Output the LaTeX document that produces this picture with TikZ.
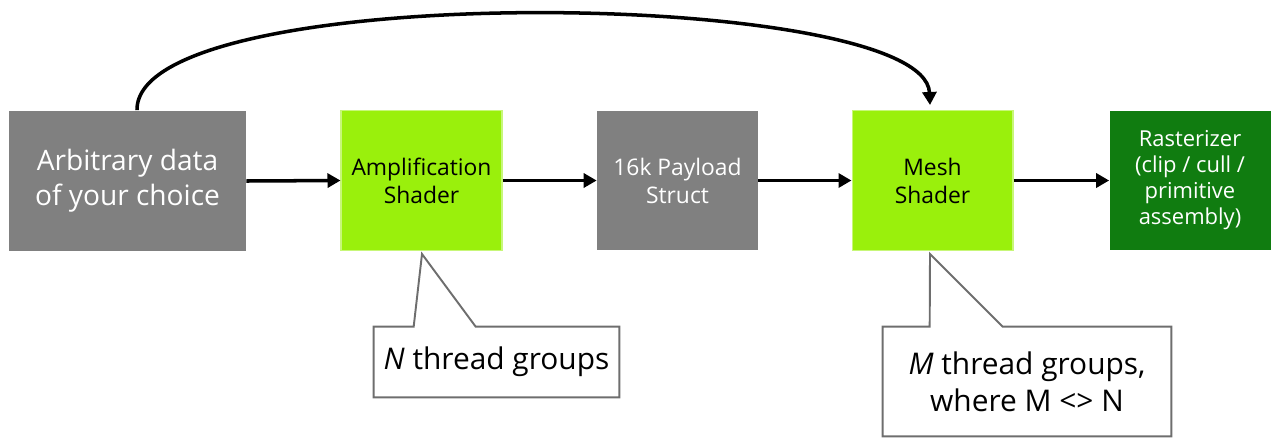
\documentclass[tikz,border=0pt]{standalone}
\usepackage{fontspec}
\setmainfont{Open Sans}
\usetikzlibrary{arrows.meta,calc}
\definecolor{boxgray}{RGB}{128,128,128}
\definecolor{limegrn}{RGB}{154,240,12}
\definecolor{darkgrn}{RGB}{16,124,16}
\definecolor{notegray}{RGB}{110,110,110}
\tikzset{
  stage/.style={minimum width=3.22cm,minimum height=2.8cm,inner sep=2pt,align=center},
  datastage/.style={stage,minimum width=4.74cm,minimum height=2.82cm,fill=boxgray,text=white,font=\fontsize{16}{19.8}\selectfont},
  graystage/.style={stage,fill=boxgray,text=white,font=\fontsize{13}{15.9}\selectfont},
  shader/.style={stage,fill=limegrn,draw=limegrn!55!white,line width=0.6pt,text=black,font=\fontsize{13}{15.9}\selectfont},
  raster/.style={stage,fill=darkgrn,text=white,font=\fontsize{12.5}{14.8}\selectfont},
  flow/.style={-{Triangle[length=2.6mm,width=2.8mm]},line width=2pt,black},
  note/.style={draw=notegray,line width=1.1pt,line join=miter},
  notetext/.style={align=center,font=\fontsize{17}{21}\selectfont},
}

\begin{document}
\begin{tikzpicture}[x=0.02cm,y=-0.02cm]
  \useasboundingbox (0,0) rectangle (1280,444);
  % pipeline stages
  \node[datastage] (data) at (127.5,181) {Arbitrary data\\of your choice};
  \node[shader] (amp) at (421.5,180.5) {Amplification\\Shader};
  \node[graystage] (payload) at (677.5,180.5) {16k Payload\\Struct};
  \node[shader] (mesh) at (932.5,180.5) {Mesh\\Shader};
  \node[raster] (rast) at (1190,180.5) {Rasterizer\\(clip / cull /\\primitive\\assembly)};
  \draw[flow] (data.east) -- (amp.west);
  \draw[flow] (amp.east) -- (payload.west);
  \draw[flow] (payload.east) -- (mesh.west);
  \draw[flow] (mesh.east) -- (rast.west);
  % bypass from the data straight to the mesh shader
  \draw[flow] ($(data.north)+(9.5,0)$) .. controls (135,-22) and (925,-12) .. ($(mesh.north)+(-2.5,-5)$);
  % callouts
  \node[notetext,minimum width=4.9cm,minimum height=1.4cm] (ncall) at (496.5,362) {\textit{N} thread groups};
  \node[notetext,minimum width=5.76cm,minimum height=2.18cm] (mcall) at (1027,381.5) {\textit{M} thread groups,\\where M <> N};
  \draw[note] (ncall.north west) -- ($(ncall.north west)+(40,0)$) -- ($(amp.south)+(0.5,3)$)
    -- ($(ncall.north west)+(102,0)$) -- (ncall.north east) -- (ncall.south east) -- (ncall.south west) -- cycle;
  \draw[note] (mcall.north west) -- ($(mcall.north west)+(47,0)$) -- ($(mesh.south)+(-2.5,3)$)
    -- ($(mcall.north west)+(120,0)$) -- (mcall.north east) -- (mcall.south east) -- (mcall.south west) -- cycle;
\end{tikzpicture}
\end{document}
